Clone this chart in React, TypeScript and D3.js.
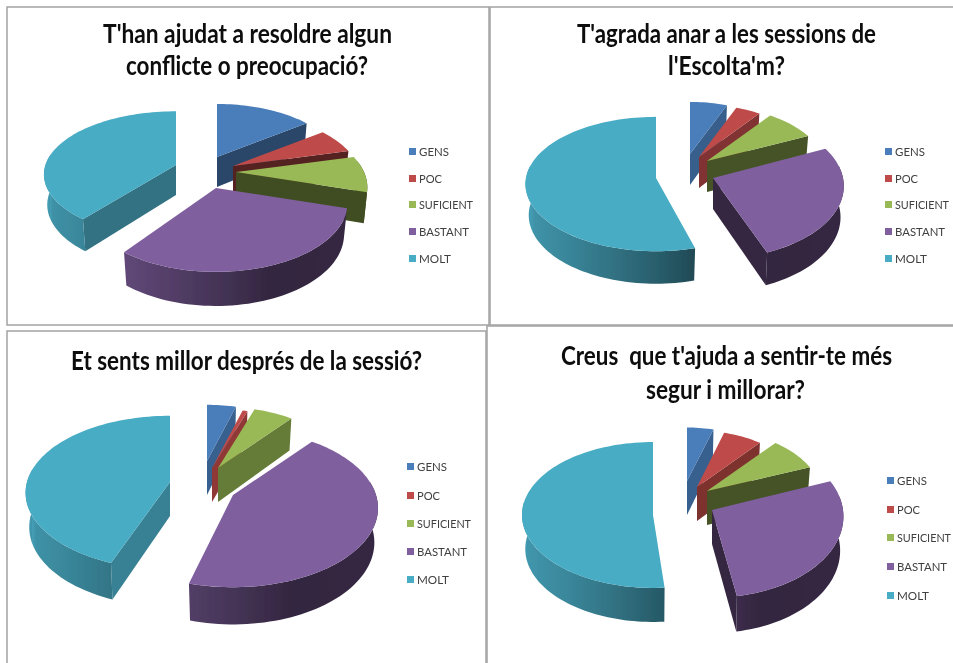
import React from "react";
import * as d3 from "d3";

const categories = ["GENS", "POC", "SUFICIENT", "BASTANT", "MOLT"];
const colors = ["#4a7ebb", "#be4b48", "#98b954", "#7f5f9e", "#4aacc5"];
const legendWidths = [30, 23, 54, 50, 32];

const valuesResoldre = [15, 6.1, 8.6, 30.3, 40];
const valuesAgrada = [6, 4, 8, 25.9, 56.1];
const valuesMillor = [4.45, 0.7, 5.55, 43.47, 45.83];
const valuesSegur = [4.5, 6.5, 8, 28.2, 52.8];

const titleResoldre = [
  { text: "T'han ajudat a resoldre algun", x: 103, w: 289, y: 43 },
  { text: "conflicte o preocupació?", x: 126, w: 242, y: 75 },
];
const titleAgrada = [
  { text: "T'agrada anar a les sessions de", x: 577, w: 299, y: 43 },
  { text: "l'Escolta'm?", x: 668, w: 117, y: 75 },
];
const titleMillor = [{ text: "Et sents millor després de la sessió?", x: 71, w: 351, y: 370 }];
const titleSegur = [
  { text: "Creus  que t'ajuda a sentir-te més", x: 561, w: 331, y: 365 },
  { text: "segur i millorar?", x: 646, w: 159, y: 399 },
];

// shapes: horizontal scale, vertical scale, perspective, degrees the slice's
// leading edge is pulled back from its neighbour by the exploded 3D view
const panels = [
  {
    id: "a", values: valuesResoldre, title: titleResoldre,
    cx: 212, cy: 170, rx: 128, ry: 65, depth: 30,
    offsets: [[5, -13], [21, -4], [24, 2], [4, 18], [-36, -5]],
    shapes: [[0.98, 1, 0.225, 0], [0.98, 1, 0.225, 0], [1, 1, 0.225, 0], [1, 1, 0.225, 0], [1.02, 0.95, 0.15, 3]],
    legendX: 409, legendY: [152, 179, 205, 232, 259],
  },
  {
    id: "b", values: valuesAgrada, title: titleAgrada,
    cx: 685, cy: 165, rx: 130, ry: 68, depth: 31,
    offsets: [[5, -11], [14, -8], [22, -4], [28, 13], [-29, 13]],
    shapes: [[0.85, 0.85, 0.11, 0], [0.86, 0.86, 0.11, 0], [0.9, 0.9, 0.11, 0], [1, 1.06, 0.11, 0], [1, 0.98, 0.09, 6]],
    legendX: 885, legendY: [152, 179, 205, 232, 259],
  },
  {
    id: "c", values: valuesMillor, title: titleMillor,
    cx: 195, cy: 475, rx: 143, ry: 77, depth: 34,
    offsets: [[12, -14], [17, -7], [23, -7], [38, 20], [-25, 7]],
    shapes: [[0.85, 0.85, 0.165, 0], [0.9, 0.9, 0.165, 0], [0.93, 0.93, 0.165, 0], [1, 1, 0.165, 0], [1, 0.98, 0.14, 6]],
    legendX: 407, legendY: [467, 496, 524, 552, 580],
  },
  {
    id: "d", values: valuesSegur, title: titleSegur,
    cx: 685, cy: 497, rx: 131, ry: 76, depth: 34,
    offsets: [[2, -16], [12, -10], [22, -6], [27, 13], [-32, 18]],
    shapes: [[0.78, 0.76, 0.08, 0], [0.8, 0.8, 0.08, 0], [0.87, 0.87, 0.08, 0], [1, 1.06, 0.08, 0], [1, 0.96, 0, 5]],
    legendX: 887, legendY: [481, 510, 538, 567, 596],
  },
];

const frames = [
  { x: 7, y: 7, w: 482, h: 318 },
  { x: 490, y: 7, w: 470, h: 318 },
  { x: 7, y: 331, w: 479, h: 340 },
  { x: 487, y: 326, w: 470, h: 345 },
];

const deg = 180 / Math.PI;
// brightness of the flat cut faces, by the direction their normal points to
const faceShade = d3.scaleLinear().domain([90, 110, 128, 144, 154, 190, 270]).range([0.8, 0.75, 0.67, 0.56, 0.45, 0.42, 0.42]).clamp(true);
// brightness of the curved outer wall, by the angle around the pie
const wallShade = d3.scaleLinear().domain([90, 130, 160, 180, 200, 224, 270]).range([0.42, 0.42, 0.4, 0.55, 0.68, 0.8, 0.92]).clamp(true);

const shade = (c: string, k: number) => {
  const r = d3.rgb(c);
  return d3.rgb(r.r * k, r.g * k, r.b * k).formatHex();
};

const pathOf = d3.line<[number, number]>();

function Slice({ panel, index, arc }: any) {
  const { rx, ry, depth, cx, cy } = panel;
  const [sx, sy, p, trim] = panel.shapes[index];
  const ax = cx + panel.offsets[index][0];
  const ay = cy + panel.offsets[index][1];
  const color = colors[index];
  const project = (theta: number, r: number, z: number): [number, number] => {
    const x = r * Math.sin(theta);
    const y = -r * Math.cos(theta);
    const s = 1 / (1 - p * y);
    return [ax + rx * sx * x * s * (1 - 0.025 * z), ay + ry * sy * y * s + depth * Math.sqrt(s) * z];
  };
  const sweep = (a: number, b: number, z: number) => {
    const n = Math.max(2, Math.ceil(((b - a) * deg) / 2));
    return d3.range(n + 1).map((i) => project(a + ((b - a) * i) / n, 1, z));
  };
  const a0 = arc.startAngle + trim / deg;
  const a1 = arc.endAngle;
  const top = [project(0, 0, 0), ...sweep(a0, a1, 0)];
  const faces: { angle: number; normal: number }[] = [
    { angle: a0, normal: a0 * deg - 90 },
    { angle: a1, normal: a1 * deg + 90 },
  ].filter((f) => f.normal > 90 && f.normal < 270);

  const w0 = Math.max(a0, 80 / deg);
  const w1 = Math.min(a1, 280 / deg);
  const hasWall = w1 > w0;
  const gradId = `wall-${panel.id}-${index}`;
  let stops: { o: number; c: string }[] = [];
  let wall: [number, number][] = [];
  let x0 = 0;
  let x1 = 1;
  if (hasWall) {
    const upper = sweep(w0, w1, 0);
    const lower = sweep(w0, w1, 1);
    wall = [...upper, ...lower.reverse()];
    const xs = wall.map((d) => d[0]);
    x0 = d3.min(xs) as number;
    x1 = (d3.max(xs) as number) + 0.01;
    stops = d3.range(17)
      .map((i) => {
        const t = w0 + ((w1 - w0) * i) / 16;
        return { o: (project(t, 1, 0)[0] - x0) / (x1 - x0), c: shade(color, wallShade(t * deg)) };
      })
      .sort((m, n) => m.o - n.o);
  }
  return (
    <g>
      {hasWall && (
        <defs>
          <linearGradient id={gradId} gradientUnits="userSpaceOnUse" x1={x0} x2={x1} y1={0} y2={0}>
            {stops.map((s, i) => (
              <stop key={i} offset={Math.min(1, Math.max(0, s.o))} stopColor={s.c} />
            ))}
          </linearGradient>
        </defs>
      )}
      {faces.map((f, i) => (
        <path
          key={i}
          d={pathOf([project(0, 0, 0), project(f.angle, 1, 0), project(f.angle, 1, 1), project(0, 0, 1)]) + "Z"}
          fill={shade(color, faceShade(f.normal))}
        />
      ))}
      {hasWall && <path d={pathOf(wall) + "Z"} fill={`url(#${gradId})`} />}
      <path d={pathOf(top) + "Z"} fill={color} />
    </g>
  );
}

function Panel({ panel }: any) {
  const arcs = d3.pie<number>().sort(null).value((d) => d)(panel.values);
  return (
    <g>
      {arcs.map((arc, i) => (
        <Slice key={i} panel={panel} index={i} arc={arc} />
      ))}
      {panel.title.map((t: any, i: number) => (
        <text
          key={i}
          x={t.x}
          y={t.y}
          textLength={t.w}
          lengthAdjust="spacingAndGlyphs"
          fontFamily="Lato"
          fontWeight={700}
          fontSize={26}
          fill="#0a0a0a"
          style={{ whiteSpace: "pre" }}
        >
          {t.text}
        </text>
      ))}
      {categories.map((c, i) => (
        <g key={c}>
          <rect x={panel.legendX} y={panel.legendY[i] - 4} width={7} height={7} fill={colors[i]} />
          <text
            x={panel.legendX + 10}
            y={panel.legendY[i] + 4}
            textLength={legendWidths[i]}
            lengthAdjust="spacingAndGlyphs"
            fontFamily="Lato"
            fontSize={11}
            fill="#404040"
          >
            {c}
          </text>
        </g>
      ))}
    </g>
  );
}

export default function App() {
  return (
    <svg
      width={953}
      height={663}
      viewBox="0 0 953 663"
      style={{ position: "absolute", left: 0, top: 0, display: "block", background: "#fff" }}
    >
      <defs>
        <filter id="soft" x="0" y="0" width="100%" height="100%" filterUnits="userSpaceOnUse" primitiveUnits="userSpaceOnUse">
          <feGaussianBlur stdDeviation="0.4" />
        </filter>
      </defs>
      <g filter="url(#soft)">
        <rect x={0} y={0} width={953} height={663} fill="#fff" />
        {frames.map((f, i) => (
          <rect key={i} x={f.x} y={f.y} width={f.w} height={f.h} fill="#fff" stroke="#a3a3a3" strokeWidth={1.5} />
        ))}
        {panels.map((p) => (
          <Panel key={p.id} panel={p} />
        ))}
      </g>
    </svg>
  );
}
